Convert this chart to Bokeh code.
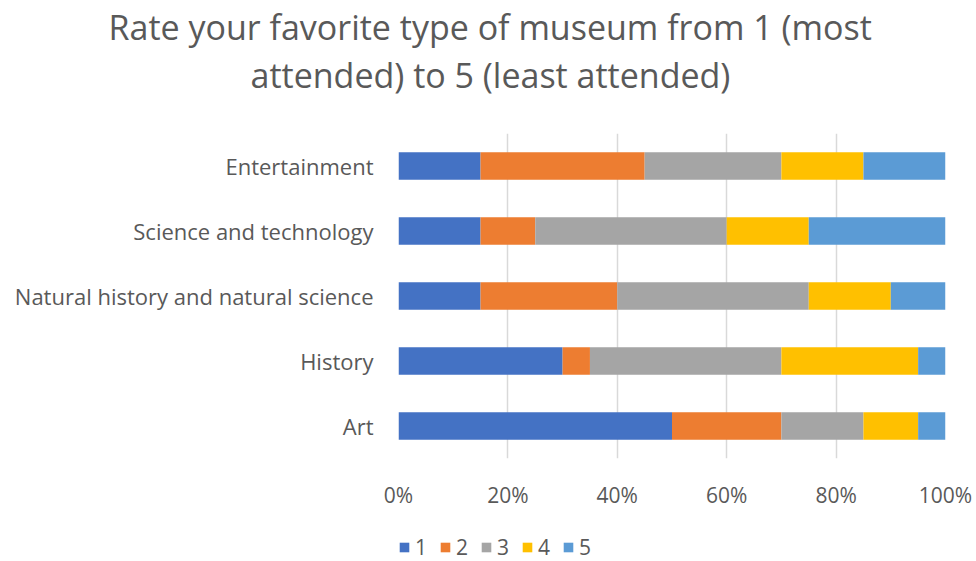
from bokeh.plotting import figure
from bokeh.models import ColumnDataSource, FixedTicker, NumeralTickFormatter, Title, Legend
from bokeh.layouts import column
from bokeh.embed import file_html
from bokeh.resources import INLINE

categories = ["Art", "History", "Natural history and natural science",
              "Science and technology", "Entertainment"]
rank_labels = ["1", "2", "3", "4", "5"]
rank1 = [50, 30, 15, 15, 15]
rank2 = [20, 5, 25, 10, 30]
rank3 = [15, 35, 35, 35, 25]
rank4 = [10, 25, 15, 15, 15]
rank5 = [5, 5, 10, 25, 15]
x_ticks = [0, 0.2, 0.4, 0.6, 0.8, 1.0]
colors = ["#4472C4", "#ED7D31", "#A5A5A5", "#FFC000", "#5B9BD5"]

title_line1 = "Rate your favorite type of museum from 1 (most"
title_line2 = "attended) to 5 (least attended)"

FONT = "Open Sans"
TXT = "#595959"

data = {"cat": categories}
for lab, vals in zip(rank_labels, [rank1, rank2, rank3, rank4, rank5]):
    data[lab] = [v / 100 for v in vals]
source = ColumnDataSource(data)

p = figure(width=976, height=516, y_range=categories, x_range=(0, 1),
           output_backend="svg", toolbar_location=None,
           min_border_left=398, min_border_right=31,
           min_border_top=133, min_border_bottom=58)
p.outline_line_color = None

p.hbar_stack(rank_labels, y="cat", height=0.42, color=colors,
             source=source, line_color=None)

p.xaxis.ticker = FixedTicker(ticks=x_ticks)
p.xaxis.formatter = NumeralTickFormatter(format="0%")
p.xaxis.axis_line_color = None
p.xaxis.major_tick_line_color = None
p.xaxis.minor_tick_line_color = None
p.xaxis.major_tick_out = 0
p.xaxis.major_label_standoff = 22
p.xaxis.major_label_text_font = FONT
p.xaxis.major_label_text_font_size = "21px"
p.xaxis.major_label_text_color = TXT

p.yaxis.axis_line_color = None
p.yaxis.major_tick_line_color = None
p.yaxis.minor_tick_line_color = None
p.yaxis.major_tick_out = 0
p.yaxis.major_label_standoff = 25
p.yaxis.major_label_text_font = FONT
p.yaxis.major_label_text_font_size = "22px"
p.yaxis.major_label_text_color = TXT

p.xgrid.ticker = FixedTicker(ticks=x_ticks)
p.xgrid.grid_line_color = "#D9D9D9"
p.xgrid.grid_line_width = 1.5
p.ygrid.grid_line_color = None

# spacer between the chart area and the two title lines
p.add_layout(Title(text=" ", text_font_size="10px", standoff=23), "above")
for txt, off in [(title_line2, -148), (title_line1, -290)]:
    p.add_layout(Title(text=txt, align="left", offset=off, standoff=0,
                       text_font=FONT, text_font_size="34px",
                       text_font_style="normal", text_color=TXT), "above")

# legend strip below the chart (its bars have zero height, only the legend shows)
leg = figure(width=976, height=45, y_range=categories, x_range=(0, 1),
             output_backend="svg", toolbar_location=None,
             x_axis_location=None, y_axis_location=None,
             min_border_left=0, min_border_right=0,
             min_border_top=0, min_border_bottom=0)
leg.outline_line_color = None
leg.grid.grid_line_color = None
leg_renderers = leg.hbar_stack(rank_labels, y="cat", height=0, color=colors,
                               source=source, line_color=None)

legend = Legend(items=[(lab, [r]) for lab, r in zip(rank_labels, leg_renderers)],
                orientation="horizontal", location=(0, 0))
legend.glyph_width = 12
legend.glyph_height = 12
legend.label_standoff = 5
legend.spacing = 4
legend.padding = 0
legend.margin = 0
legend.border_line_color = None
legend.background_fill_alpha = 0
legend.label_text_font = FONT
legend.label_text_font_size = "21px"
legend.label_text_color = TXT
leg.add_layout(legend, "center")

layout = column(p, leg, spacing=0)
open("out.html", "w").write(file_html(layout, INLINE))
